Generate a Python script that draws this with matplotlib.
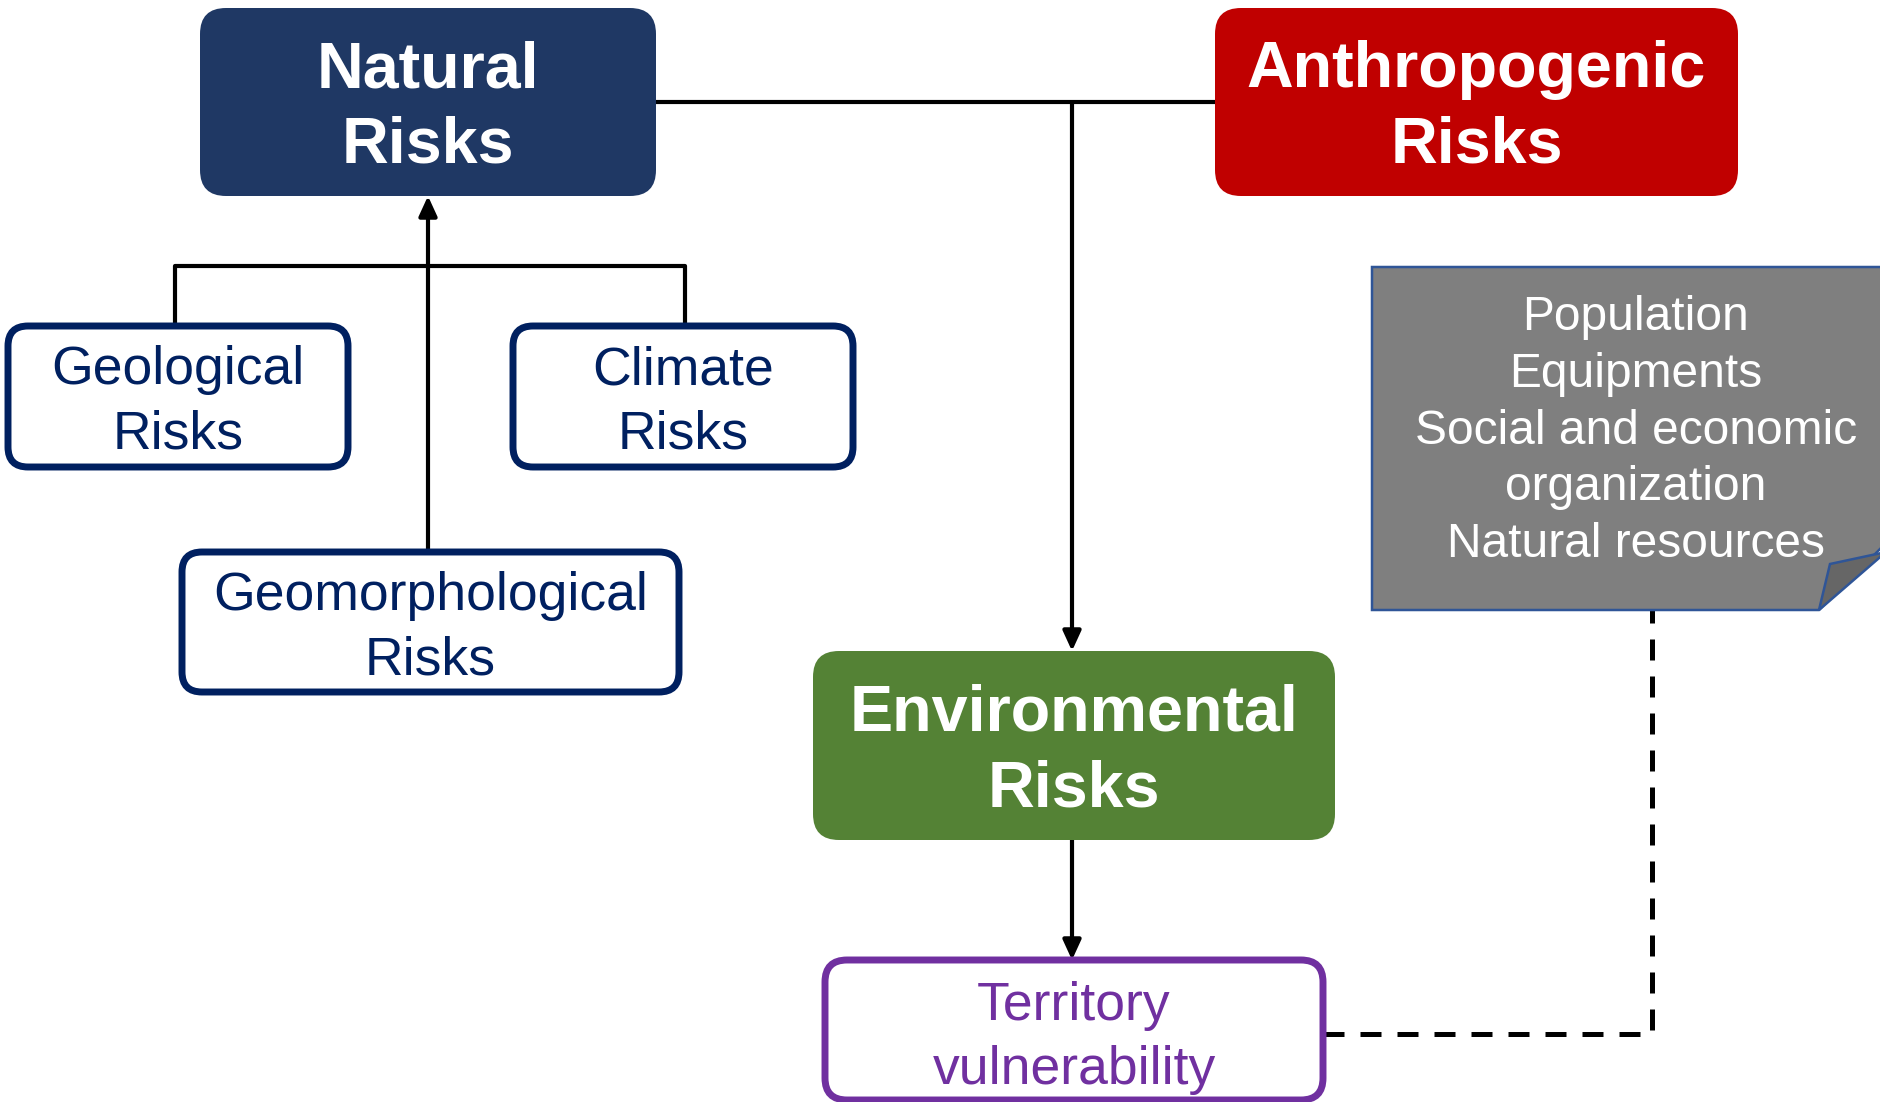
import matplotlib.pyplot as plt
from matplotlib.patches import FancyBboxPatch, Polygon

plt.rcParams['font.family'] = ['Liberation Sans', 'DejaVu Sans']

# labels
main_labels = ["Natural\nRisks", "Anthropogenic\nRisks", "Environmental\nRisks"]
main_colors = ["#1F3864", "#C00000", "#548235"]
sub_labels = ["Geological\nRisks", "Climate\nRisks", "Geomorphological\nRisks"]
target_label = "Territory\nvulnerability"
note_lines = ["Population", "Equipments", "Social and economic",
              "organization", "Natural resources"]

# box geometry in pixel units (x0, y0, x1, y1), y going down
main_boxes = [(200, 8, 656, 196), (1215, 8, 1738, 196), (813, 651, 1335, 840)]
sub_boxes = [(8, 326, 348, 467), (513, 326, 853, 467), (182, 552, 679, 692)]
target_box = (825, 960, 1323, 1100)

W, H = 1881, 1102
fig = plt.figure(figsize=(W / 100, H / 100), dpi=100)
ax = fig.add_axes([0, 0, 1, 1])
ax.set_xlim(0, W)
ax.set_ylim(H, 0)
ax.axis('off')


def rbox(b, r, fc, ec, lw, z=2):
    x0, y0, x1, y1 = b
    p = FancyBboxPatch((x0 + r, y0 + r), x1 - x0 - 2 * r, y1 - y0 - 2 * r,
                       boxstyle=f"round,pad={r}", fc=fc, ec=ec, lw=lw, zorder=z)
    ax.add_patch(p)


def center(b):
    return (b[0] + b[2]) / 2, (b[1] + b[3]) / 2


line_kw = dict(color='black', lw=3, solid_capstyle='butt', zorder=1)
arrow_kw = dict(arrowstyle='-|>,head_length=1.2,head_width=0.55', color='black',
                lw=3, shrinkA=0, shrinkB=0)

# connectors
ax.plot([656, 1215], [102, 102], **line_kw)
ax.annotate('', xy=(1072, 651), xytext=(1072, 102), arrowprops=arrow_kw, zorder=1)
ax.annotate('', xy=(1072, 960), xytext=(1072, 840), arrowprops=arrow_kw, zorder=1)
ax.plot([175, 175, 685, 685], [326, 266, 266, 326], **line_kw)
ax.annotate('', xy=(428, 196), xytext=(428, 552), arrowprops=arrow_kw, zorder=1)
ax.plot([1323, 1652, 1652], [1034, 1034, 610], color='black', lw=3.6,
        dashes=(4.2, 3.2), zorder=1)

# main boxes
for lab, col, b in zip(main_labels, main_colors, main_boxes):
    rbox(b, 26, col, col, 0)
    cx, cy = center(b)
    ax.text(cx, cy + 6, lab, color='white', fontsize=46.5, fontweight='bold',
            ha='center', va='center', linespacing=1.33, zorder=3)

# sub boxes
for lab, b in zip(sub_labels, sub_boxes):
    rbox(b, 20, 'white', '#002060', 5)
    cx, cy = center(b)
    ax.text(cx, cy + 6, lab, color='#002060', fontsize=38.5,
            ha='center', va='center', linespacing=1.36, zorder=3)

rbox(target_box, 22, 'white', '#7030A0', 5)
cx, cy = center(target_box)
ax.text(cx, cy + 8, target_label, color='#7030A0', fontsize=38.5,
        ha='center', va='center', linespacing=1.36, zorder=3)

# note with folded corner
note = Polygon([(1372, 267), (1900, 267), (1900, 529), (1819, 610), (1372, 610)],
               closed=True, fc='#7F7F7F', ec='#2F5597', lw=1.8, zorder=2)
ax.add_patch(note)
fold = Polygon([(1819, 610), (1830, 564), (1886, 552)], closed=True,
               fc='#666666', ec='#2F5597', lw=1.8, zorder=3)
ax.add_patch(fold)
ax.text(1636, 431, "\n".join(note_lines), color='white', fontsize=34.5,
        ha='center', va='center', linespacing=1.34, zorder=4)

fig.savefig('out.png', dpi=100)
